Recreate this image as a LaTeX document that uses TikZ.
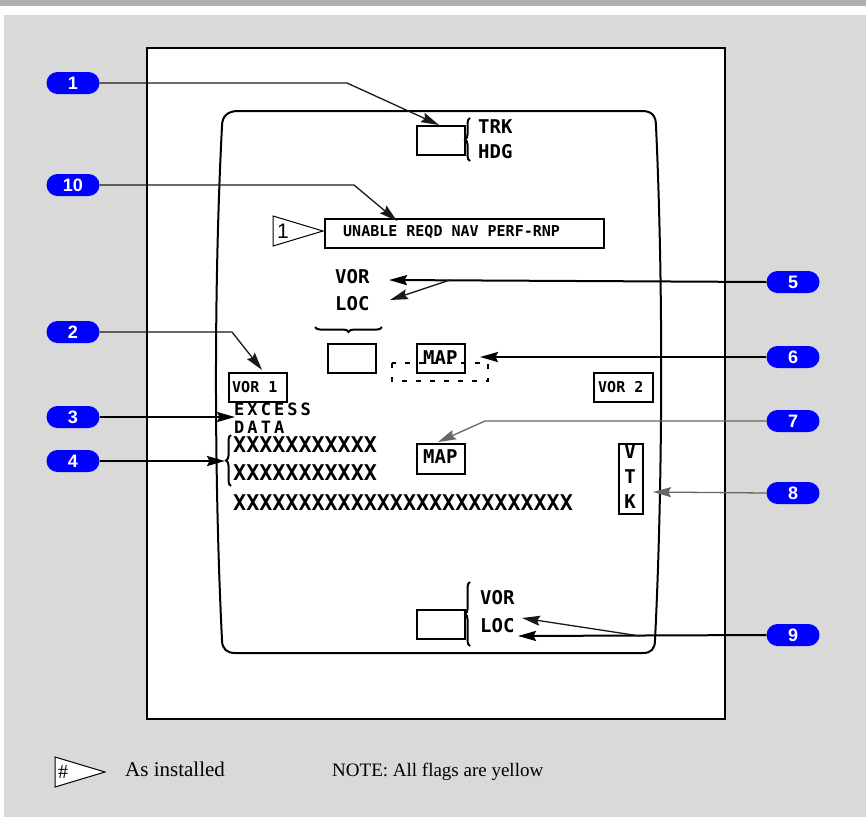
\documentclass[tikz,border=0pt]{standalone}
\usepackage{fontspec}
\setmainfont{Liberation Serif}
\newfontfamily\dispfont{DejaVu Sans Mono}
\newfontfamily\calfont{Liberation Sans}
\usetikzlibrary{arrows.meta,decorations.pathreplacing}
\newcommand\fsz[1]{\fontsize{#1}{#1}\selectfont}
\definecolor{bgray}{HTML}{D9D9D9}
\definecolor{topbar}{HTML}{B0B0B0}
\definecolor{cblue}{HTML}{0000FF}
\begin{document}
\begin{tikzpicture}[x=1pt,y=-1pt,
  callout/.style={fill=cblue, rounded corners=11pt, minimum width=53pt, minimum height=22pt,
    inner sep=0pt, text=white, font=\calfont\bfseries\fsz{18}},
  box/.style={draw, line width=2pt, inner sep=0pt, anchor=north west},
  disp/.style={inner sep=0pt, anchor=base west, font=\dispfont\bfseries\fsz{19}},
  small/.style={inner sep=0pt, anchor=base west, font=\dispfont\bfseries\fsz{15}},
  big/.style={inner sep=0pt, anchor=base west, font=\dispfont\bfseries\fsz{21.7}},
  thinlead/.style={line width=1.3pt, draw=black!90},
  thicklead/.style={line width=2pt, draw=black},
  greylead/.style={line width=1.3pt, draw=black!60},
  tip/.style={-{Stealth[length=18pt,width=10pt,inset=2.5pt]}},
  curly/.style={decorate, decoration={brace, amplitude=5pt}, line width=2pt},
]
\useasboundingbox (0,0) rectangle (866,817);
\fill[white] (0,0) rectangle (866,817);
\fill[topbar] (0,0) rectangle (866,6);
\fill[bgray] (4,15) rectangle (866,817);
\draw[fill=white, line width=2.5pt] (147,48) rectangle (725,719);

% screen outline
\draw[line width=2pt] (238,111) -- (642,111) .. controls (652,111) and (656,116) .. (656,126)
  .. controls (664,300) and (662,500) .. (655,640)
  .. controls (655,649) and (651,653) .. (643,653) -- (235,653)
  .. controls (227,653) and (222,649) .. (222,640)
  .. controls (215,500) and (213,300) .. (222,126)
  .. controls (222,116) and (228,111) .. (238,111);

% top TRK/HDG
\node[box, minimum width=48pt, minimum height=29pt] (trkbox) at (416,125) {};
\draw[curly] (470,161) -- (470,118);
\node[disp] (trk) at (478,133) {TRK};
\node[disp] (hdg) at (478,158) {HDG};

% flag 1 and UNABLE box
\draw[line width=1pt] (273,216) -- (323,231) -- (273,246) -- cycle;
\node[inner sep=0pt, anchor=base west, font=\calfont\fsz{21}] (flag1) at (277,238) {1};
\node[box, minimum width=279pt, minimum height=29pt] (unable) at (324,218) {};
\node[small] (unabletxt) at (343,236) {UNABLE REQD NAV PERF-RNP};

% VOR/LOC upper
\node[disp] (vor5) at (335,283) {VOR};
\node[disp] (loc5) at (335,310) {LOC};
\draw[curly] (382,327) -- (315,327);
\node[box, minimum width=48pt, minimum height=29pt] (ebox) at (327,343) {};

% MAP with dashed
\draw[line width=2pt, dash pattern=on 5pt off 9pt] (392,363) rectangle (488,381);
\node[box, minimum width=48pt, minimum height=29pt] (map6) at (416,343) {};
\node[disp] (map6txt) at (423,364) {MAP};

% VOR 1 / VOR 2
\node[box, minimum width=58pt, minimum height=29pt] (vor1) at (228,372) {};
\node[small] (vor1txt) at (232,392) {VOR 1};
\node[box, minimum width=59pt, minimum height=29pt] (vor2) at (593,372) {};
\node[small] (vor2txt) at (598,392) {VOR 2};

% EXCESS DATA
\node[disp, font=\dispfont\bfseries\fsz{17}\addfontfeature{LetterSpace=18}] (excess) at (234,415) {EXCESS};
\node[disp, font=\dispfont\bfseries\fsz{17}\addfontfeature{LetterSpace=18}] (data) at (234,433) {DATA};

% XXXX
\draw[curly] (231,486) -- (231,435);
\node[big] (x1) at (233,452) {XXXXXXXXXXX};
\node[big] (x2) at (233,480) {XXXXXXXXXXX};
\node[big] (x3) at (233,510) {XXXXXXXXXXXXXXXXXXXXXXXXXX};

% MAP 7
\node[box, minimum width=48pt, minimum height=30pt] (map7) at (416,443) {};
\node[disp] (map7txt) at (423,463) {MAP};

% VTK
\node[box, minimum width=24pt, minimum height=70pt] (vtk) at (618,443) {};
\node[disp, anchor=base] (vv) at (630,458) {V};
\node[disp, anchor=base] (vt) at (630,483) {T};
\node[disp, anchor=base] (vk) at (630,508) {K};

% bottom VOR/LOC
\node[box, minimum width=48pt, minimum height=29pt] (bbox) at (416,609) {};
\draw[curly] (470,646) -- (470,582);
\node[disp] (vor9) at (480,604) {VOR};
\node[disp] (loc9) at (480,632) {LOC};

% callouts
\node[callout] (c1) at (73,83) {1};
\node[callout] (c10) at (73,185) {10};
\node[callout] (c2) at (73,332) {2};
\node[callout] (c3) at (73,417) {3};
\node[callout] (c4) at (73,461) {4};
\node[callout] (c5) at (793,282) {5};
\node[callout] (c6) at (793,357) {6};
\node[callout] (c7) at (793,421) {7};
\node[callout] (c8) at (793,493) {8};
\node[callout] (c9) at (793,635) {9};

% leader coordinates
\coordinate (b1) at (347,83);
\coordinate (t1) at (439,125);
\coordinate (b10) at (354,185);
\coordinate (t10) at (397,221);
\coordinate (b2) at (232,332);
\coordinate (t2) at (262,370);
\coordinate (t3) at (235,417);
\coordinate (t4) at (225,461);
\coordinate (t5a) at (389,280);
\coordinate (b5) at (450,280);
\coordinate (t5b) at (390,300);
\coordinate (t6) at (480,357);
\coordinate (b7) at (485,421);
\coordinate (t7) at (438,442);
\coordinate (t8) at (653,492);
\coordinate (b9) at (640,636);
\coordinate (t9a) at (522,618);
\coordinate (t9b) at (518,636);

\draw[thinlead, tip] (c1.east) -- (b1) -- (t1);
\draw[thinlead, tip] (c10.east) -- (b10) -- (t10);
\draw[thinlead, tip] (c2.east) -- (b2) -- (t2);
\draw[thicklead, tip] (c3.east) -- (t3);
\draw[thicklead, tip] (c4.east) -- (t4);
\draw[thicklead, tip] (c5.west) -- (t5a);
\draw[thinlead, tip] (b5) -- (t5b);
\draw[thicklead, tip] (c6.west) -- (t6);
\draw[greylead, tip] (c7.west) -- (b7) -- (t7);
\draw[greylead, tip] (c8.west) -- (t8);
\draw[thicklead, tip] (c9.west) -- (t9b);
\draw[thinlead, tip] (b9) -- (t9a);

% legend
\draw[line width=1pt, fill=white] (55,757) -- (105,772) -- (55,787) -- cycle;
\node[inner sep=0pt, anchor=base west, font=\fsz{20}] (hash) at (58,778) {\#};
\node[inner sep=0pt, anchor=base west, font=\fsz{21}] (asinst) at (125,776) {As installed};
\node[inner sep=0pt, anchor=base west, font=\fsz{19}] (note) at (332,776) {NOTE: All flags are yellow};
\end{tikzpicture}
\end{document}
